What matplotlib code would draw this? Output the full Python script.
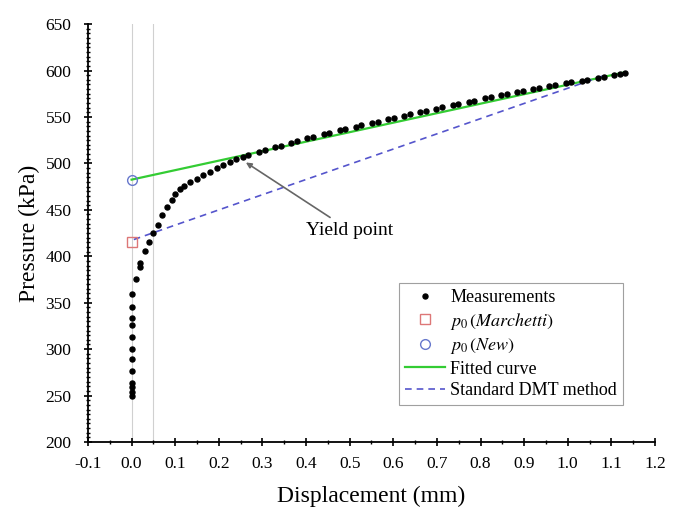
import matplotlib.pyplot as plt
from matplotlib.ticker import MultipleLocator, FormatStrFormatter

plt.rcParams['font.family'] = ['Liberation Serif', 'DejaVu Serif']
plt.rcParams['mathtext.fontset'] = 'stix'

# measured points (displacement mm, pressure kPa)
meas_d = [0, 0, 0, 0, 0, 0, 0, 0, 0, 0, 0, 0,
          0.01, 0.02, 0.02, 0.03, 0.04, 0.05, 0.06, 0.07, 0.08, 0.092,
          0.10, 0.11, 0.12, 0.135, 0.15, 0.164, 0.18, 0.195, 0.21, 0.225, 0.24,
          0.255, 0.268, 0.292, 0.305, 0.329, 0.342, 0.366, 0.379, 0.403, 0.416,
          0.440, 0.453, 0.477, 0.490, 0.514, 0.527, 0.551, 0.564, 0.588, 0.601,
          0.625, 0.638, 0.662, 0.675, 0.699, 0.712, 0.736, 0.749, 0.773, 0.786,
          0.810, 0.823, 0.847, 0.860, 0.884, 0.897, 0.921, 0.934, 0.958, 0.971,
          0.995, 1.008, 1.032, 1.045, 1.069, 1.082, 1.106, 1.119, 1.132]
meas_p = [249.5, 254, 259, 264, 276, 289, 300, 313, 326, 334, 345, 359,
          375.5, 388, 393, 405.6, 415.6, 424.7, 434, 444, 453, 461,
          467, 472, 475.5, 479.5, 483.5, 487.4, 491, 494.6, 498, 501.5, 504.5,
          507.3, 509.2, 512.4, 514.1, 517.3, 519.0, 522.1, 523.8, 526.9, 528.5,
          531.3, 532.9, 535.5, 537.0, 539.6, 541.0, 543.6, 545.0, 547.7, 549.1,
          551.5, 552.8, 555.2, 556.5, 558.9, 560.2, 562.6, 563.9, 566.3, 567.6,
          569.9, 571.1, 573.3, 574.4, 576.6, 577.7, 579.9, 581.0, 583.2, 584.2,
          586.1, 587.1, 589.0, 590.1, 592.0, 593.0, 594.9, 595.9, 597.0]

p0_marchetti = (0.0, 415.6)
p0_new = (0.0, 482.5)

fit_d = [0.0, 1.13]
fit_p = [482.5, 598.0]

dmt_d = [0.005, 1.08]
dmt_p = [418.0, 594.0]

yield_pt = (0.262, 501.0)
yield_txt = (0.40, 428.0)

fig = plt.figure(figsize=(6.79, 5.12), dpi=100)
ax = fig.add_axes([0.1296, 0.1367, 0.835, 0.8163])

ax.axvline(0.0, color='#d0d0d0', lw=0.8, zorder=0)
ax.axvline(0.05, color='#d0d0d0', lw=0.8, zorder=0)

ax.plot(fit_d, fit_p, color='#33cc33', lw=1.6, zorder=2, label='Fitted curve')
ax.plot(dmt_d, dmt_p, color='#5555cc', lw=1.2, ls=(0, (4, 3)), zorder=2,
        label='Standard DMT method')
ax.plot(meas_d, meas_p, 'o', color='black', ms=3.6, zorder=3, label='Measurements')
ax.plot(*p0_marchetti, 's', mfc='none', mec='#dd7777', ms=7, mew=1.0, zorder=4,
        label=r'$p_0\,(Marchetti)$')
ax.plot(*p0_new, 'o', mfc='none', mec='#6677cc', ms=7, mew=1.0, zorder=4,
        label=r'$p_0\,(New)$')

ax.annotate('Yield point', xy=yield_pt, xytext=yield_txt, fontsize=14,
            ha='left', va='center',
            arrowprops=dict(arrowstyle='-|>', color='#666666', lw=1.2,
                            shrinkA=2, shrinkB=0, mutation_scale=8))

ax.set_xlim(-0.1, 1.2)
ax.set_ylim(200, 650)
ax.xaxis.set_major_locator(MultipleLocator(0.1))
ax.xaxis.set_minor_locator(MultipleLocator(0.05))
ax.xaxis.set_major_formatter(FormatStrFormatter('%.1f'))
ax.yaxis.set_major_locator(MultipleLocator(50))
ax.yaxis.set_minor_locator(MultipleLocator(5))
ax.tick_params(which='major', direction='inout', length=6, width=1.2, labelsize=12.5)
ax.tick_params(which='minor', direction='inout', length=3.5, width=1.0)
ax.tick_params(axis='x', which='major', pad=7)
ax.tick_params(axis='y', which='major', pad=9)
for s in ['top', 'right']:
    ax.spines[s].set_visible(False)
for s in ['left', 'bottom']:
    ax.spines[s].set_linewidth(1.3)

ax.set_xlabel('Displacement (mm)', fontsize=17, labelpad=10)
ax.set_ylabel('Pressure (kPa)', fontsize=17, labelpad=4)

h, l = ax.get_legend_handles_labels()
order = [2, 3, 4, 0, 1]
leg = ax.legend([h[i] for i in order], [l[i] for i in order], loc='lower right',
                bbox_to_anchor=(0.96, 0.066), fontsize=13, frameon=True,
                fancybox=False, edgecolor='#888888', handlelength=2.2,
                handletextpad=0.3, borderpad=0.35, labelspacing=0.25)
leg.get_frame().set_linewidth(0.8)

fig.savefig('out.png', dpi=100)
